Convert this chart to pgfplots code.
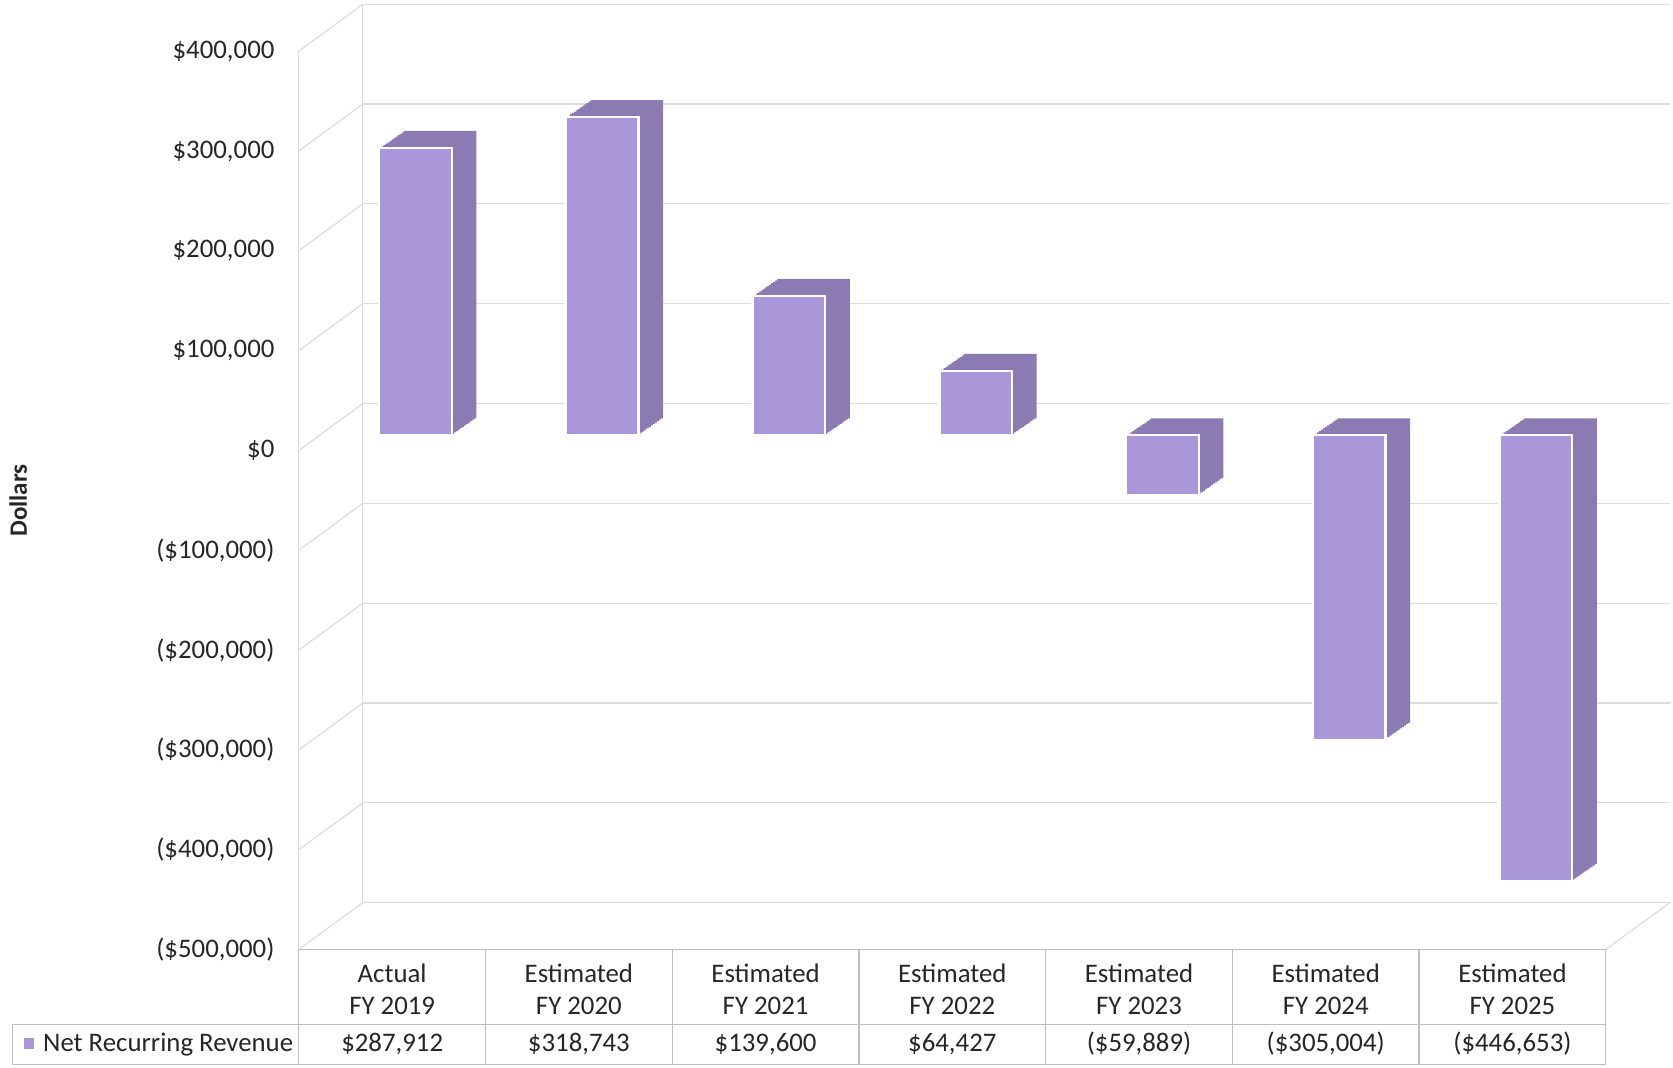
\documentclass[border=0pt]{standalone}
\usepackage{fontspec}
\setmainfont{Carlito}
\usepackage{pgfplots}
\usepackage{pgfplotstable}
\pgfplotsset{compat=1.18}
\definecolor{barfront}{HTML}{A997DA}
\definecolor{barside}{HTML}{8C7AB2}
\definecolor{gridc}{HTML}{DCDCDC}
\definecolor{tablec}{HTML}{BFBFBF}
\definecolor{txt}{HTML}{262626}

\pgfplotstableread{
x y
0 287912
1 318743
2 139600
3 64427
4 -59889
5 -305004
6 -446653
}\nrr

\begin{document}
\begin{tikzpicture}
\useasboundingbox (0,0) rectangle (836.5pt,-534pt);
\begin{axis}[
  at={(149.4pt,-474.8pt)}, anchor=south west,
  scale only axis, width=653.5pt, height=449.2pt,
  xmin=-0.5, xmax=6.5, ymin=-500000, ymax=400000,
  clip=false,
  axis line style={draw=none},
  major tick length=0pt,
  scaled y ticks=false,
  xtick={0,1,2,3,4,5,6},
  xticklabels={{Actual\\FY 2019},{Estimated\\FY 2020},{Estimated\\FY 2021},{Estimated\\FY 2022},{Estimated\\FY 2023},{Estimated\\FY 2024},{Estimated\\FY 2025}},
  xticklabel style={align=center, anchor=north, inner sep=0pt, yshift=-7pt, font=\fontsize{13.4}{16}\selectfont, text=txt},
  ytick={-500000,-400000,-300000,-200000,-100000,0,100000,200000,300000,400000},
  yticklabels={{(\$500,000)},{(\$400,000)},{(\$300,000)},{(\$200,000)},{(\$100,000)},{\$0},{\$100,000},{\$200,000},{\$300,000},{\$400,000}},
  yticklabel style={anchor=east, inner sep=0pt, xshift=-12pt, font=\fontsize{13.4}{15}\selectfont, text=txt},
]
% walls and grid
\pgfplotsinvokeforeach{-500000,-400000,-300000,-200000,-100000,0,100000,200000,300000,400000}{
  \draw[gridc, line width=0.6pt] ([shift={(32pt,23.5pt)}]axis cs:-0.5,#1) -- ([shift={(32pt,23.5pt)}]axis cs:6.5,#1);
  \draw[gridc, line width=0.6pt] (axis cs:-0.5,#1) -- ([shift={(32pt,23.5pt)}]axis cs:-0.5,#1);
}
\draw[gridc, line width=0.6pt] (axis cs:-0.5,-500000) -- (axis cs:-0.5,400000);
\draw[gridc, line width=0.6pt] ([shift={(32pt,23.5pt)}]axis cs:-0.5,-500000) -- ([shift={(32pt,23.5pt)}]axis cs:-0.5,400000);
\draw[gridc, line width=0.6pt] (axis cs:6.5,-500000) -- ([shift={(32pt,23.5pt)}]axis cs:6.5,-500000);

% bars: depth sweep then front face
\pgfplotsinvokeforeach{1,0.92,0.83,0.75,0.67,0.58,0.5,0.42,0.33,0.25,0.17,0.08}{
  \addplot[ybar, bar width=36.3pt, bar shift=0pt, fill=barside, draw=none,
    xshift=11.7pt+#1*12.3pt, yshift=7.6pt+#1*8.5pt] table[x=x,y=y]{\nrr};
}
\addplot[ybar, bar width=36.3pt, bar shift=0pt, fill=barfront, draw=white, line width=1.2pt,
  xshift=11.7pt, yshift=7.6pt] table[x=x,y=y]{\nrr};

% data table
\draw[tablec, line width=0.6pt] (axis cs:-0.5,-500000) -- (axis cs:6.5,-500000);
\draw[tablec, line width=0.6pt] ([xshift=-143pt,yshift=-37.3pt]axis cs:-0.5,-500000) -- ([yshift=-37.3pt]axis cs:6.5,-500000);
\draw[tablec, line width=0.6pt] ([xshift=-143pt,yshift=-57.6pt]axis cs:-0.5,-500000) -- ([yshift=-57.6pt]axis cs:6.5,-500000);
\draw[tablec, line width=0.6pt] ([xshift=-143pt,yshift=-37.3pt]axis cs:-0.5,-500000) -- ([xshift=-143pt,yshift=-57.6pt]axis cs:-0.5,-500000);
\pgfplotsinvokeforeach{-0.5,0.5,1.5,2.5,3.5,4.5,5.5,6.5}{
  \draw[tablec, line width=0.6pt] (axis cs:#1,-500000) -- ([yshift=-57.6pt]axis cs:#1,-500000);
}
\fill[barfront] ([xshift=-137.6pt,yshift=-44.4pt]axis cs:-0.5,-500000) rectangle ([xshift=-132.4pt,yshift=-49.6pt]axis cs:-0.5,-500000);
\node[anchor=base west, inner sep=0pt, font=\fontsize{13.4}{15}\selectfont, text=txt] at ([xshift=-128pt,yshift=-51pt]axis cs:-0.5,-500000) {Net Recurring Revenue};
\node[anchor=base, inner sep=0pt, font=\fontsize{13.4}{15}\selectfont, text=txt] at ([yshift=-51pt]axis cs:0,-500000) {\$287,912};
\node[anchor=base, inner sep=0pt, font=\fontsize{13.4}{15}\selectfont, text=txt] at ([yshift=-51pt]axis cs:1,-500000) {\$318,743};
\node[anchor=base, inner sep=0pt, font=\fontsize{13.4}{15}\selectfont, text=txt] at ([yshift=-51pt]axis cs:2,-500000) {\$139,600};
\node[anchor=base, inner sep=0pt, font=\fontsize{13.4}{15}\selectfont, text=txt] at ([yshift=-51pt]axis cs:3,-500000) {\$64,427};
\node[anchor=base, inner sep=0pt, font=\fontsize{13.4}{15}\selectfont, text=txt] at ([yshift=-51pt]axis cs:4,-500000) {(\$59,889)};
\node[anchor=base, inner sep=0pt, font=\fontsize{13.4}{15}\selectfont, text=txt] at ([yshift=-51pt]axis cs:5,-500000) {(\$305,004)};
\node[anchor=base, inner sep=0pt, font=\fontsize{13.4}{15}\selectfont, text=txt] at ([yshift=-51pt]axis cs:6,-500000) {(\$446,653)};

% y title
\node[rotate=90, font=\bfseries\fontsize{12.5}{14}\selectfont, text=txt] at ([xshift=-140.3pt]rel axis cs:0,0.5) {Dollars};
\end{axis}
\end{tikzpicture}
\end{document}
